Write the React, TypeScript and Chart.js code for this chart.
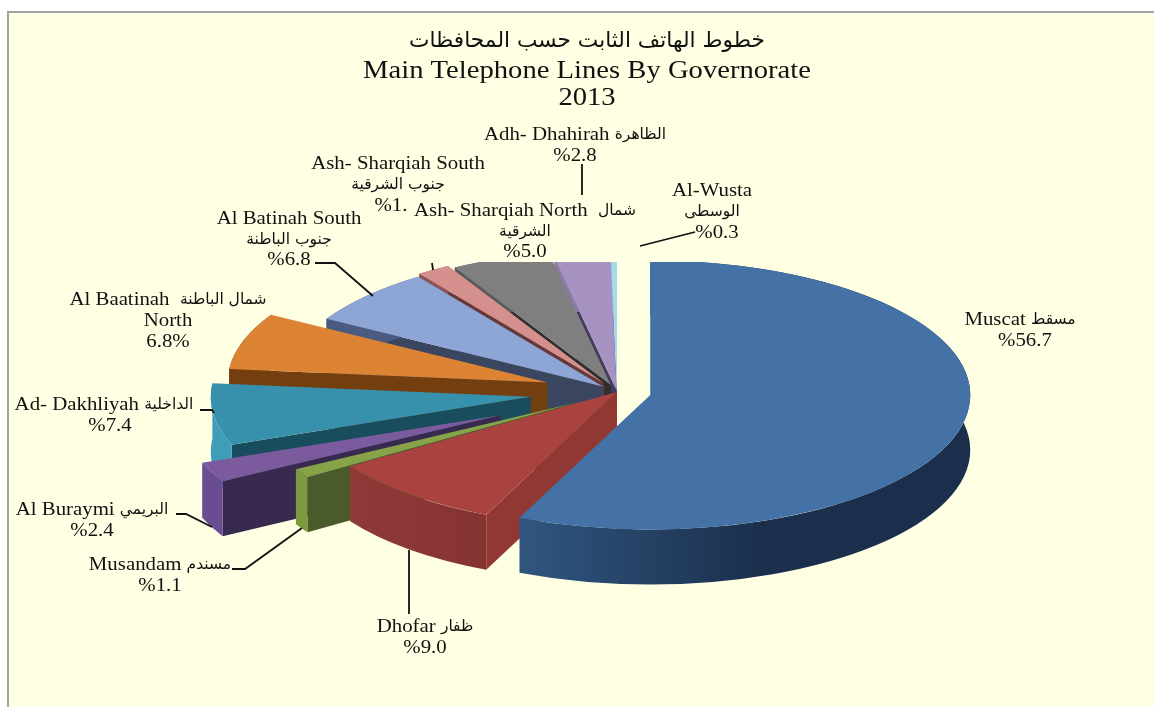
import React, { useEffect, useRef } from "react";
import { Chart, registerables } from "chart.js";

Chart.register(...registerables);

// ---- data ----
const categories = [
  "Muscat", "Dhofar", "Musandam", "Al Buraymi", "Ad- Dakhliyah", "Al Baatinah North",
  "Al Batinah South", "Ash- Sharqiah South", "Ash- Sharqiah North", "Adh- Dhahirah", "Al-Wusta",
];
const shares = [56.7, 9.0, 1.1, 2.4, 7.4, 6.8, 6.8, 1.7, 5.0, 2.8, 0.3];
const titleLines = ["خطوط الهاتف الثابت حسب المحافظات", "Main Telephone Lines By Governorate", "2013"];
const labelLines = [
  ["Muscat مسقط", "%56.7"],
  ["Dhofar ظفار", "%9.0"],
  ["Musandam مسندم", "%1.1"],
  ["Al Buraymi البريمي", "%2.4"],
  ["Ad- Dakhliyah الداخلية", "%7.4"],
  ["Al Baatinah  شمال الباطنة", "North", "6.8%"],
  ["Al Batinah South", "جنوب الباطنة", "%6.8"],
  ["Ash- Sharqiah South", "جنوب الشرقية", "%1."],
  ["Ash- Sharqiah North  شمال", "الشرقية", "%5.0"],
  ["Adh- Dhahirah الظاهرة", "%2.8"],
  ["Al-Wusta", "الوسطى", "%0.3"],
];

// ---- styles ----
const topColors = ["#4472a6", "#aa4340", "#86a447", "#7b5a9e", "#3791ad", "#dc8434", "#8da6d6", "#d58f8c", "#7f7f7f", "#a693c1", "#a5dbe8"];
const sideLight = ["#305680", "#8f3a38", "#7d9a3f", "#6a4d90", "#3f9db8", "#733f0f", "#4a5a80", "#8a5558", "#5a5a5a", "#8d7aa8", "#8cc8d8"];
const sideDark = ["#1b2f4c", "#853331", "#7d9a3f", "#6a4d90", "#3f9db8", "#733f0f", "#4a5a80", "#8a5558", "#5a5a5a", "#8d7aa8", "#8cc8d8"];
const faceColors = ["#1b2f4c", "#913734", "#4b5a2a", "#38294f", "#174d5c", "#733f0f", "#3a4660", "#66383a", "#2e2e2e", "#453a5c", "#3a7a8a"];
const sliceOut = [34, 0, 50, 128, 87, 73, 19, 24, 18, 4, 0];
const drawOrder = [10, 9, 8, 7, 6, 5, 4, 3, 2, 1, 0];

const ELL = { cx: 617, cy: 392, rx: 320, ry: 134.5, depth: 55, clipTop: 262 };
const labelCenters: [number, number, number][] = [
  [1020, 320, 21.5], [425, 627, 21], [160, 565, 21], [92, 510, 21.5], [104, 405, 21], [168, 300, 21],
  [289, 219, 20.5], [398, 164, 21], [525, 211, 20.5], [575, 135, 21], [712, 191, 21],
];
const lastLineShift = [5, 0, 0, 0, 6, 0, 0, -7, 0, 0, 5];
const titleCenter = { x: 587, ys: [41, 71, 98] };
const leaders: number[][][] = [
  [],
  [[409, 550], [409, 614]],
  [[232, 569], [245, 569], [302, 528]],
  [[176, 514], [186, 514], [212, 527]],
  [[200, 410], [212, 410], [214, 413]],
  [],
  [[315, 263], [335, 263], [373, 296]],
  [[432, 263], [433, 270]],
  [],
  [[582, 164], [582, 195]],
  [[640, 246], [695, 232]],
];
const EN_FONT = "18.5px 'Liberation Serif'";
const AR_FONT = "15.5px 'DejaVu Sans'";
const TITLE_EN = "25px 'Liberation Serif'";
const TITLE_AR = "21.7px 'DejaVu Sans'";
const AR = /[\u0600-\u06FF]/;
const EN_STRETCH = 1.126;
const T_STRETCH = 1.145;

function drawLine(ctx: CanvasRenderingContext2D, text: string, cx: number, y: number, en: string, ar: string, stretch: number) {
  const runs = text.match(/[\u0600-\u06FF][\u0600-\u06FF\s]*[\u0600-\u06FF]|[^\u0600-\u06FF]+/g) || [];
  let total = 0;
  const widths = runs.map((r) => {
    const isAr = AR.test(r);
    ctx.font = isAr ? ar : en;
    const w = ctx.measureText(r).width * (isAr ? 1 : stretch);
    total += w;
    return w;
  });
  let x = cx - total / 2;
  runs.forEach((r, i) => {
    const isAr = AR.test(r);
    ctx.font = isAr ? ar : en;
    ctx.direction = isAr ? "rtl" : "ltr";
    ctx.textAlign = "left";
    ctx.save();
    ctx.translate(x, y);
    if (!isAr) ctx.scale(stretch, 1);
    ctx.fillText(r, 0, 0);
    ctx.restore();
    x += widths[i];
  });
  ctx.direction = "ltr";
}

const solidPie = {
  id: "solidPie",
  beforeDatasetsDraw(chart: any) {
    const ctx: CanvasRenderingContext2D = chart.ctx;
    const arcs = chart.getDatasetMeta(0).data;
    const R = arcs[0].outerRadius;
    const sx = ELL.rx / R;
    const sy = ELL.ry / R;
    ctx.save();
    ctx.beginPath();
    ctx.rect(0, ELL.clipTop, chart.width, chart.height - ELL.clipTop);
    ctx.clip();
    ctx.translate(ELL.cx, ELL.cy);
    ctx.scale(sx, sy);
    const d = ELL.depth / sy;
    for (const i of drawOrder) {
      const arc = arcs[i];
      const { x, y, startAngle: s, endAngle: e, outerRadius: r } = arc;
      const mid = (s + e) / 2;
      const out = sliceOut[i] / sx;
      ctx.save();
      ctx.translate(-x + Math.cos(mid) * out, -y + Math.sin(mid) * out);
      // radial wall at the leading edge
      ctx.fillStyle = faceColors[i];
      ctx.beginPath();
      ctx.moveTo(x, y);
      ctx.lineTo(x + Math.cos(s) * r, y + Math.sin(s) * r);
      ctx.lineTo(x + Math.cos(s) * r, y + Math.sin(s) * r + d);
      ctx.lineTo(x, y + d);
      ctx.closePath();
      ctx.fill();
      // curved outer wall
      const grad = ctx.createLinearGradient(
        x + r * Math.min(Math.cos(s), Math.cos(e)), 0,
        i === 0 ? x + r * 0.35 : x + r * Math.max(Math.cos(s), Math.cos(e)), 0,
      );
      grad.addColorStop(0, sideLight[i]);
      grad.addColorStop(1, sideDark[i]);
      ctx.fillStyle = grad;
      ctx.beginPath();
      ctx.arc(x, y + d, r, s, e);
      ctx.arc(x, y, r, e, s, true);
      ctx.closePath();
      ctx.fill();
      // top face, the library's own arc
      arc.draw(ctx);
      ctx.restore();
    }
    ctx.restore();
    return false;
  },
  afterDraw(chart: any) {
    const ctx: CanvasRenderingContext2D = chart.ctx;
    ctx.save();
    ctx.fillStyle = "#111";
    ctx.textBaseline = "middle";
    titleLines.forEach((t, j) => drawLine(ctx, t, titleCenter.x, titleCenter.ys[j], TITLE_EN, TITLE_AR, T_STRETCH));
    labelLines.forEach((lines, i) => {
      const [cx, y0, lh] = labelCenters[i];
      lines.forEach((t, j) =>
        drawLine(ctx, t, cx + (j === lines.length - 1 ? lastLineShift[i] : 0), y0 + j * lh, EN_FONT, AR_FONT, EN_STRETCH),
      );
    });
    ctx.strokeStyle = "#111";
    ctx.lineWidth = 1.8;
    leaders.forEach((pts) => {
      if (!pts.length) return;
      ctx.beginPath();
      pts.forEach((p, k) => (k ? ctx.lineTo(p[0], p[1]) : ctx.moveTo(p[0], p[1])));
      ctx.stroke();
    });
    ctx.restore();
  },
};

export default function App() {
  const ref = useRef<HTMLCanvasElement>(null);
  useEffect(() => {
    document.body.style.margin = "0";
    document.body.style.background = "#fff";
    const chart = new Chart(ref.current!, {
      type: "pie",
      data: {
        labels: categories,
        datasets: [{ data: shares, backgroundColor: topColors, borderWidth: 0 }],
      },
      options: {
        animation: false,
        responsive: false,
        plugins: {
          legend: { display: false },
          tooltip: { enabled: false },
          title: { display: false },
        },
      },
      plugins: [solidPie],
    } as any);
    return () => chart.destroy();
  }, []);
  return (
    <div style={{ position: "relative", width: 1154, height: 707, overflow: "hidden", background: "#fff" }}>
      <div
        style={{
          position: "absolute", left: 7, top: 11, right: 0, bottom: 0,
          background: "#ffffe4", borderLeft: "2px solid #a3a3a3", borderTop: "2px solid #a3a3a3",
        }}
      />
      <canvas ref={ref} width={1154} height={707} style={{ position: "absolute", left: 0, top: 0, filter: "blur(0.4px)" }} />
    </div>
  );
}
